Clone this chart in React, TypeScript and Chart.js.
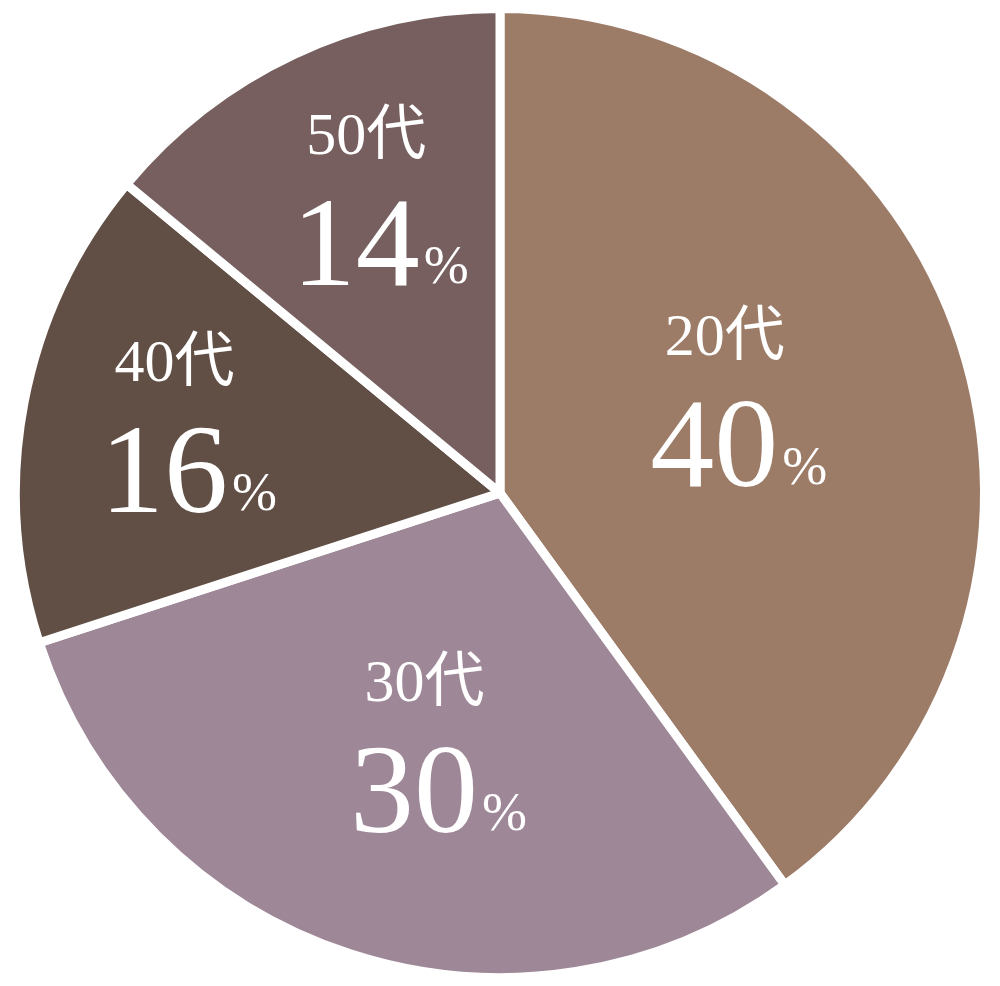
import React, { useEffect, useRef } from "react";
import Chart from "chart.js/auto";

// age groups and their share (%)
const ageGroups: string[] = ["20代", "30代", "40代", "50代"];
const shares: number[] = [40, 30, 16, 14];
const sliceColors: string[] = ["#9c7b67", "#9e8797", "#614f45", "#765f5e"];

// label anchor: angle from top (deg, clockwise) and fraction of radius
const labelAngles: number[] = [73, 194, 278, 335];
const labelRadii: number[] = [0.5, 0.585, 0.664, 0.619];

const SERIF = '"Liberation Serif", "DejaVu Serif", "Noto Sans CJK JP", serif';

const labelPlugin = {
  id: "sliceLabels",
  afterDatasetsDraw(chart: any) {
    const ctx: CanvasRenderingContext2D = chart.ctx;
    const meta = chart.getDatasetMeta(0);
    ctx.save();
    ctx.fillStyle = "#ffffff";
    ctx.textBaseline = "alphabetic";
    meta.data.forEach((arc: any, i: number) => {
      const a = (labelAngles[i] * Math.PI) / 180;
      const r = arc.outerRadius * labelRadii[i];
      const cx = arc.x + r * Math.sin(a);
      const cy = arc.y - r * Math.cos(a);

      // small line, e.g. "20代"
      ctx.font = `60px ${SERIF}`;
      ctx.textAlign = "center";
      ctx.fillText(ageGroups[i], cx - 7, cy - 67);

      // big line, number + small "%"
      const num = String(shares[i]);
      ctx.font = `128px ${SERIF}`;
      const wNum = ctx.measureText(num).width;
      ctx.font = `54px ${SERIF}`;
      const wPct = ctx.measureText("%").width;
      const left = cx + 7 - (wNum + wPct + 4) / 2;
      ctx.textAlign = "left";
      ctx.font = `128px ${SERIF}`;
      ctx.fillText(num, left, cy + 64);
      ctx.font = `54px ${SERIF}`;
      ctx.fillText("%", left + wNum + 4, cy + 62);
    });
    ctx.restore();
  },
};

const AgePieChart: React.FC = () => {
  const chartRef = useRef<HTMLCanvasElement | null>(null);
  const chartInstance = useRef<Chart | null>(null);

  useEffect(() => {
    if (chartRef.current) {
      if (chartInstance.current) {
        chartInstance.current.destroy();
      }
      chartInstance.current = new Chart(chartRef.current, {
        type: "pie",
        data: {
          labels: ageGroups,
          datasets: [
            {
              data: shares,
              backgroundColor: sliceColors,
              borderColor: "#ffffff",
              borderWidth: 9,
              hoverBorderWidth: 9,
            },
          ],
        },
        options: {
          animation: false,
          responsive: true,
          maintainAspectRatio: false,
          layout: { padding: 4 },
          plugins: {
            legend: { display: false },
            tooltip: { enabled: false },
          },
        },
        plugins: [labelPlugin],
      });
    }
    return () => {
      if (chartInstance.current) {
        chartInstance.current.destroy();
        chartInstance.current = null;
      }
    };
  }, []);

  return (
    <div style={{ position: "absolute", left: 0, top: 0, width: 1000, height: 986, background: "#fff" }}>
      <canvas ref={chartRef} />
    </div>
  );
};

export default function App() {
  return <AgePieChart />;
}
